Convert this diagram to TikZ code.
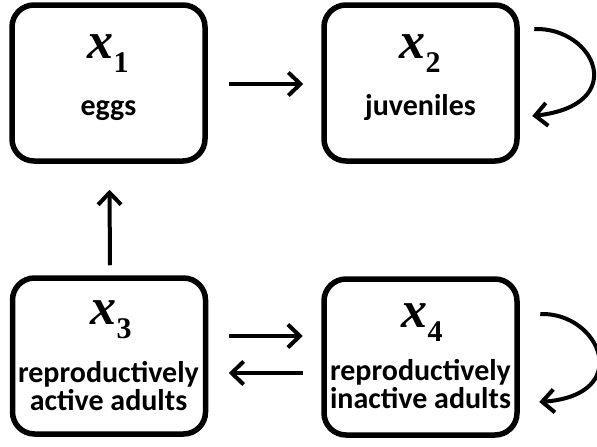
\documentclass[tikz,border=0pt]{standalone}
\usepackage{fontspec}
\setmainfont{Carlito}
\newfontfamily\xfont{Liberation Serif}
\usetikzlibrary{arrows.meta}
\begin{document}
\begin{tikzpicture}[x=1pt,y=-1pt,
  box/.style={draw=black,line width=5.5pt,rounded corners=22pt,minimum width=193pt,minimum height=156pt,inner sep=0pt},
  var/.style={anchor=base,inner sep=0pt,font=\xfont\bfseries\itshape\fontsize{52}{52}\selectfont},
  lab/.style={anchor=base,inner sep=0pt,font=\bfseries\fontsize{30}{30}\selectfont},
  arr/.style={line width=4pt,-{Straight Barb[length=12pt,width=23pt,line width=4pt]}}]
\useasboundingbox (0,0) rectangle (597,447);
\node[box] (b1) at (108.5,83) {};
\node[box] (b2) at (420.5,83) {};
\node[box] (b3) at (109,356) {};
\node[box] (b4) at (420.5,357) {};
\newcommand{\vsub}[1]{x\raisebox{-14pt}{\upshape\fontsize{30}{30}\selectfont #1}}
\node[var] (v1) at (108,58) {\vsub{1}};
\node[var] (v2) at (420,58) {\vsub{2}};
\node[var] (v3) at (111,324) {\vsub{3}};
\node[var] (v4) at (422,327) {\vsub{4}};
\node[lab] (l1) at (108.5,115) {eggs};
\node[lab] (l2) at (420.5,115) {juveniles};
\node[lab] (l3a) at (108.5,382) {reproductively};
\node[lab] (l3b) at (108.5,410) {active adults};
\node[lab] (l4a) at (420.5,380) {reproductively};
\node[lab] (l4b) at (420.5,408) {inactive adults};
\draw[arr] ([xshift=21pt,yshift=-1pt]b1.east) -- ([xshift=-18pt,yshift=-1pt]b2.west);
\draw[arr] ([xshift=1pt,yshift=10pt]b3.north) -- ([xshift=1pt,yshift=-26pt]b1.south);
\draw[arr] ([xshift=20.5pt,yshift=20pt]b3.east) -- ([xshift=-18.5pt,yshift=21pt]b4.west);
\draw[arr] ([xshift=-18.5pt,yshift=-16pt]b4.west) -- ([xshift=20.5pt,yshift=-17pt]b3.east);
\draw[arr] ([xshift=14.5pt,yshift=54pt]b2.east) .. controls (595,27) and (630,105) .. ([xshift=12.5pt,yshift=-33pt]b2.east);
\draw[arr] ([xshift=20.5pt,yshift=43pt]b4.east) .. controls (600,312) and (635,395) .. ([xshift=19.5pt,yshift=-45pt]b4.east);
\end{tikzpicture}
\end{document}
